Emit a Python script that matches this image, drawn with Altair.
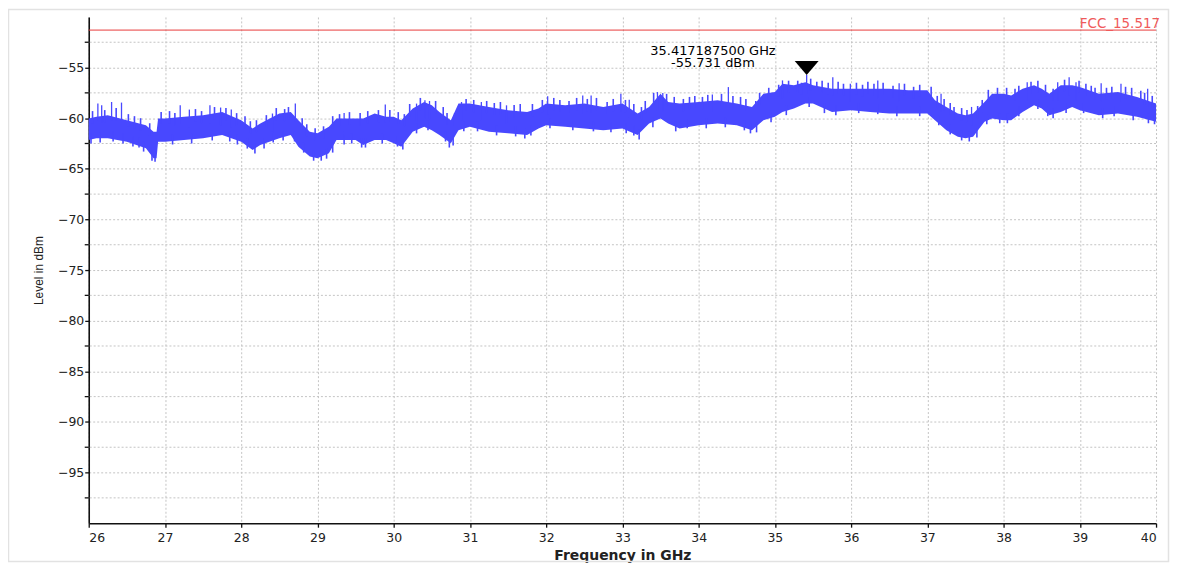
import altair as alt
import pandas as pd

# ---- data ----
env_freq = [26.0, 26.1, 26.25, 26.5, 26.75, 26.85, 26.89, 26.91, 27.0, 27.25, 27.5, 27.75,
            28.0, 28.15, 28.25, 28.5, 28.65, 28.75, 28.9, 29.0, 29.15, 29.25, 29.5, 29.6,
            29.75, 29.9, 30.0, 30.1, 30.25, 30.4, 30.5, 30.6, 30.75, 30.85, 31.0, 31.25,
            31.5, 31.75, 31.9, 32.0, 32.25, 32.5, 32.75, 33.0, 33.1, 33.2, 33.35, 33.5,
            33.6, 33.75, 34.0, 34.25, 34.5, 34.7, 34.85, 35.0, 35.1, 35.25, 35.4, 35.5,
            35.75, 36.0, 36.25, 36.5, 36.75, 37.0, 37.1, 37.25, 37.4, 37.5, 37.6, 37.75,
            37.85, 38.0, 38.1, 38.25, 38.4, 38.5, 38.6, 38.75, 38.9, 39.0, 39.25, 39.5,
            39.75, 40.0]
env_upper = [-60.03, -59.87, -59.71, -60.20, -60.69, -61.34, -61.34, -60.03, -60.03, -59.87, -59.71, -59.38,
             -60.20, -61.01, -60.52, -59.54, -59.38, -60.20, -61.34, -61.50, -60.85, -60.03, -60.03, -60.03,
             -59.54, -59.87, -59.87, -60.20, -59.05, -58.40, -58.73, -59.38, -60.20, -58.56, -58.56, -58.89,
             -59.22, -59.38, -59.05, -58.56, -58.73, -58.56, -58.89, -58.56, -59.05, -59.54, -58.89, -57.58,
             -58.40, -58.56, -58.40, -58.24, -58.56, -58.89, -57.58, -57.42, -56.60, -56.76, -56.44, -56.76,
             -57.09, -57.09, -57.09, -57.09, -57.25, -57.25, -58.24, -58.89, -59.54, -59.71, -59.54, -58.40,
             -57.58, -57.58, -57.75, -57.09, -56.76, -57.09, -57.58, -56.76, -56.76, -56.93, -57.58, -57.42,
             -57.91, -58.56]
env_lower = [-62.16, -61.99, -61.99, -62.32, -62.97, -63.95, -63.95, -62.32, -62.32, -62.16, -61.99, -61.67,
             -62.32, -63.14, -62.65, -61.99, -61.67, -62.81, -63.79, -63.95, -63.46, -62.16, -62.16, -62.65,
             -62.16, -62.16, -62.48, -62.81, -61.34, -60.85, -61.18, -61.67, -62.48, -61.18, -60.85, -61.34,
             -61.50, -61.67, -61.01, -60.69, -60.85, -61.01, -61.18, -61.01, -61.34, -61.67, -60.52, -60.03,
             -60.52, -61.01, -60.69, -60.52, -60.69, -61.18, -60.20, -59.87, -59.38, -59.05, -58.56, -58.56,
             -59.38, -59.22, -59.38, -59.54, -59.54, -59.54, -60.20, -61.18, -61.83, -61.99, -61.83, -60.36,
             -60.03, -60.20, -60.20, -59.38, -58.73, -59.05, -59.71, -59.38, -58.89, -59.22, -59.71, -59.54,
             -59.87, -60.36]

# tall peaks above the trace
spike_freq = [26.12, 26.17, 26.30, 26.43, 27.20, 27.32, 27.59, 27.73, 27.87, 28.41, 28.71, 29.35,
              29.89, 30.30, 30.41, 30.47, 30.89, 31.15, 31.48, 32.02, 32.48, 32.59, 32.98,
              33.09, 33.46, 33.53, 34.18, 34.39, 35.10, 35.417, 35.76, 35.99, 36.35,
              36.63, 37.18, 37.58, 38.31, 38.71, 38.86, 38.95, 39.28, 39.54, 39.89]
spike_level = [-58.56, -58.73, -58.40, -58.46, -58.73, -59.15, -58.73, -58.95, -59.15, -59.54, -58.56, -59.50,
               -58.66, -58.56, -58.24, -58.30, -58.40, -58.40, -58.73, -57.84, -57.75, -57.75, -57.58,
               -58.17, -57.42, -57.52, -57.65, -56.93, -56.27, -55.731, -55.95, -56.60, -56.27,
               -56.54, -57.58, -58.89, -56.44, -56.44, -55.95, -56.44, -56.54, -56.60, -57.09]

# smaller noise peaks on the upper edge
tip_up_freq = [26.05, 26.21, 26.36, 26.52, 26.60, 26.68, 26.80, 26.95, 27.06, 27.13, 27.40, 27.48,
               27.65, 27.80, 27.94, 28.05, 28.12, 28.20, 28.33, 28.46, 28.57, 28.62, 28.80, 28.86,
               28.97, 29.08, 29.20, 29.29, 29.42, 29.56, 29.66, 29.80, 29.95, 30.06, 30.14, 30.21,
               30.35, 30.55, 30.65, 30.70, 30.80, 30.95, 31.05, 31.22, 31.32, 31.40, 31.58, 31.66,
               31.82, 31.95, 32.10, 32.18, 32.30, 32.40, 32.54, 32.66, 32.80, 32.88, 33.04, 33.15,
               33.25, 33.30, 33.41, 33.58, 33.68, 33.80, 33.88, 33.95, 34.05, 34.12, 34.30, 34.45,
               34.55, 34.62, 34.75, 34.80, 34.92, 35.05, 35.18, 35.30, 35.35, 35.47, 35.55, 35.62,
               35.70, 35.83, 35.90, 36.07, 36.15, 36.22, 36.30, 36.42, 36.55, 36.70, 36.82, 36.90,
               37.05, 37.13, 37.22, 37.30, 37.35, 37.45, 37.52, 37.66, 37.72, 37.80, 37.92, 38.04,
               38.15, 38.20, 38.36, 38.45, 38.55, 38.65, 38.80, 38.99, 39.08, 39.15, 39.20, 39.35,
               39.42, 39.60, 39.68, 39.80, 39.85, 39.95]
tip_up_level = [-59.3, -59.2, -59.0, -59.6, -59.8, -60.0, -60.5, -59.4, -59.3, -59.5, -59.1, -59.3,
                -58.9, -59.0, -59.5, -59.8, -60.3, -60.2, -59.7, -59.0, -59.1, -58.9, -60.0, -60.6,
                -61.0, -60.8, -59.8, -59.6, -59.4, -59.5, -59.3, -59.2, -59.2, -59.4, -59.6, -58.6,
                -58.0, -58.3, -58.9, -59.5, -59.5, -58.1, -58.2, -58.3, -58.5, -58.4, -58.7, -58.6,
                -58.6, -58.2, -58.0, -58.2, -58.3, -58.0, -58.1, -58.0, -58.4, -58.1, -58.2, -58.6,
                -58.9, -58.3, -57.5, -57.6, -57.9, -58.1, -57.9, -57.8, -57.9, -57.7, -57.6, -57.8,
                -57.9, -58.1, -58.3, -57.5, -57.0, -56.7, -56.3, -56.3, -56.5, -56.1, -56.4, -56.3,
                -56.5, -56.4, -56.6, -56.5, -56.7, -56.4, -56.6, -56.5, -56.8, -56.6, -56.9, -56.7,
                -56.9, -57.8, -58.1, -58.5, -58.9, -59.0, -59.2, -58.8, -58.2, -57.2, -57.0, -57.0,
                -57.1, -56.8, -56.4, -56.3, -56.7, -57.1, -56.2, -56.3, -56.6, -56.8, -57.0, -57.0,
                -56.9, -56.9, -57.0, -57.3, -57.5, -57.8]

# noise dips on the lower edge
tip_dn_freq = [26.03, 26.15, 26.32, 26.45, 26.58, 26.66, 26.72, 26.83, 26.87, 27.10, 27.35, 27.62,
               27.85, 27.95, 28.08, 28.18, 28.30, 28.42, 28.55, 28.70, 28.82, 28.95, 29.05, 29.12,
               29.20, 29.35, 29.45, 29.58, 29.63, 29.85, 30.05, 30.12, 30.30, 30.45, 30.68, 30.73,
               30.78, 30.92, 31.10, 31.35, 31.60, 31.72, 31.80, 32.05, 32.35, 32.62, 32.85, 33.05,
               33.15, 33.22, 33.40, 33.70, 33.85, 34.10, 34.35, 34.60, 34.68, 34.76, 34.95, 35.15,
               35.45, 35.65, 35.80, 36.10, 36.35, 36.60, 36.90, 37.15, 37.30, 37.45, 37.55, 37.65,
               37.78, 37.95, 38.05, 38.20, 38.45, 38.58, 38.65, 38.82, 39.05, 39.30, 39.45, 39.70,
               39.90, 39.98]
tip_dn_level = [-62.5, -62.4, -62.3, -62.5, -62.8, -62.9, -63.3, -64.2, -64.3, -62.6, -62.5, -62.2,
                -62.3, -62.6, -63.0, -63.5, -63.0, -62.4, -62.2, -62.3, -63.4, -64.2, -64.2, -64.0,
                -63.4, -62.6, -62.5, -62.9, -62.9, -62.5, -62.8, -63.1, -61.5, -61.2, -62.3, -62.9,
                -62.7, -61.3, -61.3, -61.7, -61.8, -62.0, -61.7, -61.0, -61.2, -61.3, -61.4, -61.5,
                -61.7, -62.1, -60.9, -61.3, -61.0, -61.0, -60.9, -61.2, -61.5, -61.4, -60.4, -59.7,
                -58.9, -59.5, -59.7, -59.5, -59.6, -59.8, -59.8, -60.7, -61.6, -62.2, -62.3, -61.9,
                -60.6, -60.5, -60.5, -59.8, -59.1, -59.8, -60.0, -59.5, -59.5, -60.0, -59.8, -60.2,
                -60.5, -60.6]

limit_name = "FCC_15.517"
limit_level = -51.3

marker_freq = 35.417187500
marker_level = -55.731

x_ticks = [26, 26.5, 27, 27.5, 28, 28.5, 29, 29.5, 30, 30.5, 31, 31.5, 32, 32.5, 33, 33.5,
           34, 34.5, 35, 35.5, 36, 36.5, 37, 37.5, 38, 38.5, 39, 39.5, 40]
y_major = [-95, -90, -85, -80, -75, -70, -65, -60, -55]
y_minor = [-97.5, -92.5, -87.5, -82.5, -77.5, -72.5, -67.5, -62.5, -57.5, -52.5]

# ---- tables ----
band = pd.DataFrame({"freq": env_freq, "upper": env_upper, "lower": env_lower})
spikes = pd.DataFrame({"freq": spike_freq, "level": spike_level})
tips_up = pd.DataFrame({"freq": tip_up_freq, "level": tip_up_level})
tips_dn = pd.DataFrame({"freq": tip_dn_freq, "level": tip_dn_level})
minor = pd.DataFrame({"level": y_minor})
limit = pd.DataFrame({"level": [limit_level], "name": [limit_name], "freq": [40.0]})
marker = pd.DataFrame({
    "freq": [marker_freq], "level": [marker_level],
    "l1": [f"{marker_freq:.9f} GHz"], "l2": [f"{marker_level:.3f} dBm"],
})

BLUE = "#4848ff"
GRID = "#c4c4c4"
xs = alt.Scale(domain=[26, 40], nice=False, zero=False)
ys = alt.Scale(domain=[-100, -50], nice=False, zero=False)

x_axis = alt.Axis(values=x_ticks, title="Frequency in GHz", labelOverlap=False,
                  labelExpr="abs(datum.value % 1) < 0.001 ? '' + datum.value : ''")
y_axis = alt.Axis(values=y_major, title="Level in dBm", format="d")

minor_grid = alt.Chart(minor).mark_rule(color=GRID, strokeDash=[2, 2], strokeWidth=1).encode(
    y=alt.Y("level:Q", scale=ys, axis=y_axis)
)
minor_ticks = alt.Chart(minor).mark_rule(color="#111111", strokeWidth=1.3).encode(
    y="level:Q", x=alt.value(-4), x2=alt.value(0)
)

base_band = alt.Chart(band).mark_area(color=BLUE, opacity=1).encode(
    x=alt.X("freq:Q", scale=xs, axis=x_axis),
    y=alt.Y("upper:Q", scale=ys, axis=y_axis),
    y2="lower:Q",
)

spike_layer = alt.Chart(spikes).transform_calculate(
    base="datum.level - 1.8"
).mark_rule(color=BLUE, strokeWidth=1.3).encode(x="freq:Q", y="level:Q", y2="base:Q")

tip_up_layer = alt.Chart(tips_up).transform_calculate(
    base="datum.level - 1.2"
).mark_rule(color=BLUE, strokeWidth=1.6).encode(x="freq:Q", y="level:Q", y2="base:Q")

tip_dn_layer = alt.Chart(tips_dn).transform_calculate(
    base="datum.level + 1.0"
).mark_rule(color=BLUE, strokeWidth=1.6).encode(x="freq:Q", y="level:Q", y2="base:Q")

limit_rule = alt.Chart(limit).mark_rule(color="#e83c3c", strokeWidth=1).encode(y="level:Q")
limit_text = alt.Chart(limit).mark_text(
    align="right", baseline="alphabetic", dx=4, dy=-2, color="#f05a5a",
    font="DejaVu Sans", fontSize=13.5
).encode(x="freq:Q", y="level:Q", text="name:N")

marker_sym = alt.Chart(marker).mark_point(
    shape="M-1,-1.17L1,-1.17L0,0Z", size=576, filled=True, color="black", opacity=1
).encode(x="freq:Q", y="level:Q")
marker_t1 = alt.Chart(marker).mark_text(
    align="center", baseline="alphabetic", dx=-94, dy=-20.5, color="black",
    font="DejaVu Sans", fontSize=13
).encode(x="freq:Q", y="level:Q", text="l1:N")
marker_t2 = alt.Chart(marker).mark_text(
    align="center", baseline="alphabetic", dx=-94, dy=-7.5, color="black",
    font="DejaVu Sans", fontSize=13
).encode(x="freq:Q", y="level:Q", text="l2:N")

frame = alt.Chart(pd.DataFrame({"a": [0]})).mark_rect(
    fillOpacity=0, stroke="#e2e2e2", strokeWidth=1.5
).encode(x=alt.value(-80.5), x2=alt.value(1083.5), y=alt.value(-7.5), y2=alt.value(546.5))

chart = alt.layer(
    frame, minor_grid, minor_ticks, base_band, spike_layer, tip_up_layer, tip_dn_layer,
    limit_rule, limit_text, marker_sym, marker_t1, marker_t2
).properties(
    width=1071, height=508,
    autosize=alt.AutoSizeParams(type="none"),
    padding={"left": 81, "top": 8, "right": 14, "bottom": 40},
).configure_view(strokeWidth=0).configure_axis(
    grid=True, gridColor=GRID, gridDash=[2, 2], gridWidth=1,
    domainColor="#111111", domainWidth=1.6, tickColor="#111111", tickWidth=1.3, tickSize=4,
    labelFont="DejaVu Sans", labelFontSize=12.5, labelColor="#222222",
    titleColor="#222222",
).configure_axisX(
    labelPadding=4, titleFont="DejaVu Sans", titleFontSize=14, titleFontWeight="bold", titlePadding=5,
).configure_axisY(
    labelPadding=1, titleFont="Liberation Sans", titleFontSize=12, titleFontWeight="normal", titlePadding=12,
)

chart.save("out.html", embed_options={"renderer": "svg", "actions": False})
